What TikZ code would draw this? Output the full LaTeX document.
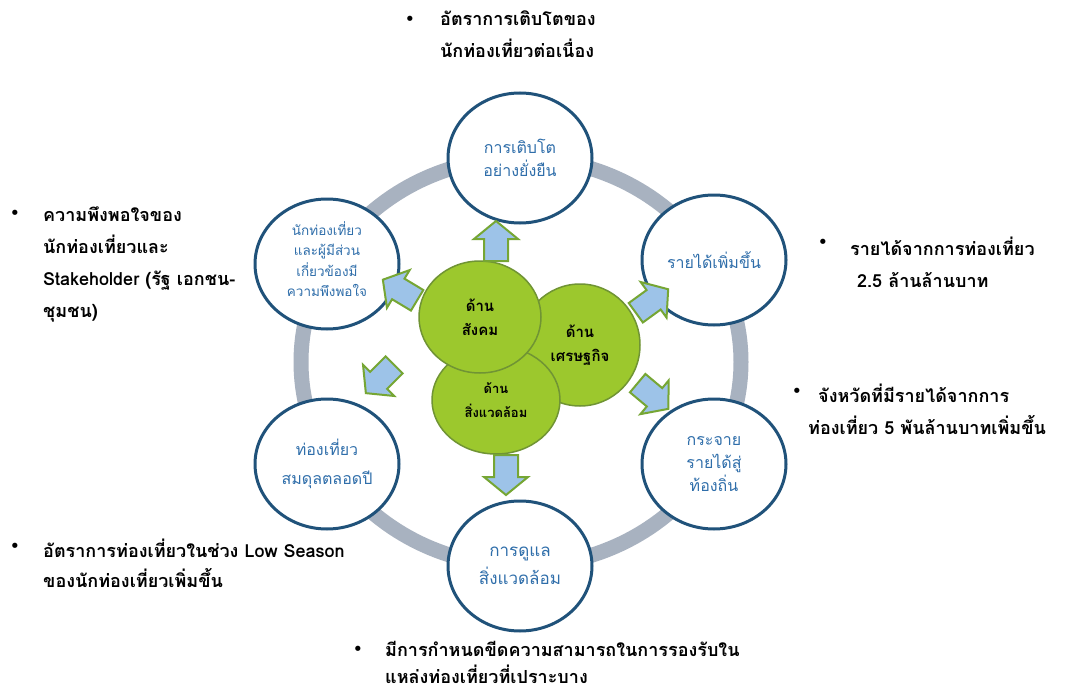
\documentclass[tikz,border=0pt]{standalone}
\usepackage{fontspec}
\setmainfont[Script=Thai]{Loma}
\newfontfamily\bulletfont{DejaVu Sans}
\usetikzlibrary{shapes.geometric}
\definecolor{ringgray}{RGB}{168,178,192}
\definecolor{circblue}{RGB}{32,82,122}
\definecolor{txtblue}{RGB}{47,110,170}
\definecolor{leafgreen}{RGB}{156,200,45}
\definecolor{leafedge}{RGB}{112,148,52}
\definecolor{arrowfill}{RGB}{157,195,232}
\definecolor{arrowedge}{RGB}{118,166,52}
\begin{document}
\begin{tikzpicture}[x=1pt,y=-1pt,
  goal/.style={draw=circblue, line width=3pt, fill=white, ellipse,
    minimum width=144pt, minimum height=130pt, inner sep=0pt, align=center,
    text=txtblue, font=\fontsize{16}{23}\selectfont},
  goaltext/.style={inner sep=0pt, align=center, text=txtblue},
  leaf/.style={draw=leafedge, line width=1.5pt, fill=leafgreen, ellipse,
    inner sep=0pt, align=center, font=\bfseries\fontsize{15}{24}\selectfont},
  note/.style={anchor=north west, inner sep=0pt, align=left,
    font=\bfseries\fontsize{18}{32}\selectfont},
  dot/.style={inner sep=0pt, font=\bulletfont\fontsize{18}{18}\selectfont},
  blockarrow/.pic={\draw[draw=arrowedge, fill=arrowfill, line width=2pt, line join=miter]
    (-20,-12) -- (2,-12) -- (2,-22) -- (20,0) -- (2,22) -- (2,12) -- (-20,12) -- cycle;}]
\useasboundingbox (0,0) rectangle (1072,693);
\fill[white] (0,0) rectangle (1072,693);
% ring
\draw[ringgray, line width=15pt] (521,362) ellipse [x radius=220pt, y radius=204pt];
% goal circles
\node[goal] (top) at (520,158) {การเติบโต\\อย่างยั่งยืน};
\node[goal] (rtop) at (714,260) {รายได้เพิ่มขึ้น};
\node[goal] (rbot) at (714,464) {กระจาย\\รายได้สู่\\ท้องถิ่น};
\node[goal, font=\fontsize{17}{28}\selectfont] (bot) at (520,566) {การดูแล\\สิ่งแวดล้อม};
\node[goal, font=\fontsize{16}{29}\selectfont] (lbot) at (327,464) {ท่องเที่ยว\\สมดุลตลอดปี};
\node[goal] (ltop) at (327,264) {};
\node[goaltext, font=\fontsize{13.5}{20.5}\selectfont] (ltoptext) at (327,259) {นักท่องเที่ยว\\และผู้มีส่วน\\เกี่ยวข้องมี\\ความพึงพอใจ};
% green circles
\node[leaf, minimum width=120pt, minimum height=122pt] (eco) at (580,345) {ด้าน\\เศรษฐกิจ};
\node[leaf, minimum width=128pt, minimum height=108pt, font=\bfseries\fontsize{13}{24}\selectfont] (env) at (496,400) {ด้าน\\สิ่งแวดล้อม};
\node[leaf, minimum width=122pt, minimum height=112pt] (soc) at (480,317) {ด้าน\\สังคม};
% arrows
\pic[rotate=90] at (496,241) {blockarrow};
\pic[rotate=-90] at (506,475) {blockarrow};
\pic[rotate=149] at (400,290) {blockarrow};
\pic[rotate=36] at (652,301) {blockarrow};
\pic[rotate=225] at (380,379) {blockarrow};
\pic[rotate=-40] at (653,396) {blockarrow};
% notes
\node[dot] (b1) at (410,21) {•};
\node[note] (n1) at (440,11) {อัตราการเติบโตของ\\นักท่องเที่ยวต่อเนื่อง};
\node[dot] (b2) at (15,215) {•};
\node[note] (n2) at (43,207) {ความพึงพอใจของ\\นักท่องเที่ยวและ\\Stakeholder (รัฐ เอกชน-\\ชุมชน)};
\node[dot] (b3) at (823,244) {•};
\node[note] (n3) at (850,237) {รายได้จากการท่องเที่ยว\\\hspace*{7pt}2.5 ล้านล้านบาท};
\node[dot] (b4) at (797,393) {•};
\node[note] (n4) at (808,384) {\hspace*{10pt}จังหวัดที่มีรายได้จากการ\\ท่องเที่ยว 5 พันล้านบาทเพิ่มขึ้น};
\node[dot] (b5) at (15,548) {•};
\node[note, font=\bfseries\fontsize{18}{30}\selectfont] (n5) at (43,539) {อัตราการท่องเที่ยวในช่วง Low Season\\ของนักท่องเที่ยวเพิ่มขึ้น};
\node[dot] (b6) at (358,651) {•};
\node[note, font=\bfseries\fontsize{18}{27}\selectfont] (n6) at (385,641) {มีการกำหนดขีดความสามารถในการรองรับใน\\แหล่งท่องเที่ยวที่เปราะบาง};
\end{tikzpicture}
\end{document}
